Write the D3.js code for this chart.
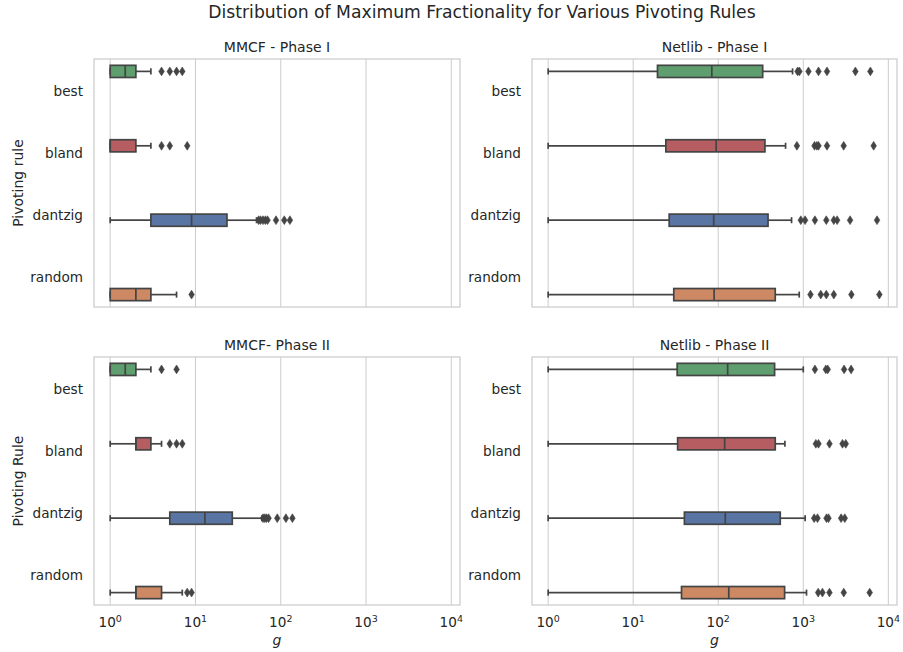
<!DOCTYPE html>
<head>
	<script type="text/javascript" src="https://cdnjs.cloudflare.com/ajax/libs/d3/7.8.5/d3.min.js"></script>
</head>
<style type="text/css">
body{
	margin: 0;
	background: #fff;
}
svg text{
	font-family: "DejaVu Sans", sans-serif;
	fill: #262626;
}
.grid line{
	stroke: #cccccc;
	stroke-width: 1;
}
.frame{
	fill: none;
	stroke: #cccccc;
	stroke-width: 1.25;
}
</style>
<body>
	<div class="viz"></div>
</body>
<script type="text/javascript">
// categories and hue colours
var rules = ["best", "bland", "dantzig", "random"];
var ruleColors = ["#5f9e6e", "#b55d60", "#5975a4", "#cc8963"];
var panelTitles = ["MMCF - Phase I", "Netlib - Phase I", "MMCF- Phase II", "Netlib - Phase II"];
var yLabels = ["Pivoting rule", "Pivoting Rule"];
var decades = [1, 10, 100, 1000, 10000];
var tickPowers = ["0", "1", "2", "3", "4"];

// box stats per rule: [whisker low, Q1, median, Q3, whisker high]
var mmcf1Stats = [[1, 1, 1.5, 2, 3], [1, 1, 1, 2, 3], [1, 3, 9, 23.4, 52], [1, 1, 2, 3, 6]];
var mmcf1Fliers = [[4, 5, 6, 7], [4, 5, 8], [55, 58, 62, 66, 70, 88, 110, 128], [9]];

var netlib1Stats = [[1, 19.3, 84, 333, 748], [1, 24.2, 94.5, 354, 619], [1, 26.5, 88.5, 385, 728], [1, 30, 89.4, 468, 896]];
var netlib1Fliers = [[856, 900, 1150, 1510, 1900, 4100, 6150],
	[841, 1355, 1443, 1510, 1900, 2985, 6720],
	[935, 1050, 1370, 1865, 2285, 2500, 3550, 7365],
	[1215, 1605, 1865, 2285, 3680, 7850]];

var mmcf2Stats = [[1, 1, 1.5, 2, 3], [1, 2, 2, 3, 4], [1, 5, 12.9, 27, 60], [1, 2, 2, 4, 7]];
var mmcf2Fliers = [[4, 6], [5, 6, 7], [62, 65, 68, 72, 91, 115, 137], [8, 9]];

var netlib2Stats = [[1, 32.9, 129, 460, 1000], [1, 33.3, 119, 468, 608], [1, 40, 121, 536, 1052], [1, 37, 133, 603, 1091]];
var netlib2Fliers = [[1370, 1840, 1940, 3020, 3650],
	[1405, 1510, 2032, 2890, 3160],
	[1343, 1470, 1875, 1980, 2785, 3075],
	[1496, 1680, 2032, 2993, 6040]];

var W = 903, H = 652;
var lineColor = "#444444";
var lw = 1.7;
var svg = d3.select(".viz").append("svg").attr("width", W).attr("height", H);

svg.append("text").attr("x", 482).attr("y", 18).attr("text-anchor", "middle")
	.style("font-size", "17.2px").text("Distribution of Maximum Fractionality for Various Pivoting Rules");

var colsX = [[94, 460], [532, 897]];
var rowsY = [[59, 307], [357, 605]];

var panels = [
	{stats: mmcf1Stats, fliers: mmcf1Fliers, col: 0, row: 0},
	{stats: netlib1Stats, fliers: netlib1Fliers, col: 1, row: 0},
	{stats: mmcf2Stats, fliers: mmcf2Fliers, col: 0, row: 1},
	{stats: netlib2Stats, fliers: netlib2Fliers, col: 1, row: 1}
];

var diamond = "M0,-4.4L2.8,0L0,4.4L-2.8,0Z";

panels.forEach(function(p, i){
	var xr = colsX[p.col], yr = rowsY[p.row];
	var x = d3.scaleLog().domain([Math.pow(10, -0.19), Math.pow(10, 4.102)]).range(xr);
	var y = d3.scaleBand().domain(rules).range(yr);
	var g = svg.append("g");

	// vertical grid at each decade
	g.append("g").attr("class", "grid").selectAll("line").data(decades).enter().append("line")
		.attr("x1", function(d){ return x(d); }).attr("x2", function(d){ return x(d); })
		.attr("y1", yr[0]).attr("y2", yr[1]);

	// hue dodge: every rule is its own hue, so boxes shift inside the band
	rules.forEach(function(r, k){
		var bw = y.bandwidth();
		var hue = d3.scaleBand().domain(rules).range([y(r) + bw * 0.1, y(r) + bw * 0.9]);
		var h = hue.bandwidth() * 0.98;
		var cy = hue(r) + hue.bandwidth() / 2;
		var s = p.stats[k];
		var bg = g.append("g");
		// whiskers
		bg.append("line").attr("x1", x(s[0])).attr("x2", x(s[1])).attr("y1", cy).attr("y2", cy)
			.attr("stroke", lineColor).attr("stroke-width", lw);
		bg.append("line").attr("x1", x(s[3])).attr("x2", x(s[4])).attr("y1", cy).attr("y2", cy)
			.attr("stroke", lineColor).attr("stroke-width", lw);
		// caps
		[s[0], s[4]].forEach(function(v){
			bg.append("line").attr("x1", x(v)).attr("x2", x(v)).attr("y1", cy - h / 4).attr("y2", cy + h / 4)
				.attr("stroke", lineColor).attr("stroke-width", lw);
		});
		// box
		bg.append("rect").attr("x", x(s[1])).attr("y", cy - h / 2)
			.attr("width", x(s[3]) - x(s[1])).attr("height", h)
			.attr("fill", ruleColors[k]).attr("stroke", lineColor).attr("stroke-width", lw);
		// median
		bg.append("line").attr("x1", x(s[2])).attr("x2", x(s[2])).attr("y1", cy - h / 2).attr("y2", cy + h / 2)
			.attr("stroke", lineColor).attr("stroke-width", lw);
		// fliers
		bg.selectAll("path").data(p.fliers[k]).enter().append("path")
			.attr("d", diamond)
			.attr("transform", function(d){ return "translate(" + x(d) + "," + cy + ")"; })
			.attr("fill", lineColor).attr("stroke", lineColor).attr("stroke-width", 0.6);
	});

	// frame
	g.append("rect").attr("class", "frame").attr("x", xr[0]).attr("y", yr[0])
		.attr("width", xr[1] - xr[0]).attr("height", yr[1] - yr[0]);

	// y tick labels
	var yaxis = d3.axisLeft(y).tickSize(0).tickPadding(11);
	var ya = g.append("g").attr("transform", "translate(" + xr[0] + ",2)").call(yaxis);
	ya.select(".domain").remove();
	ya.selectAll("text").style("font-size", "13.6px").attr("fill", "#262626").style("font-family", "DejaVu Sans");

	// subplot title
	g.append("text").attr("x", (xr[0] + xr[1]) / 2).attr("y", yr[0] - 7).attr("text-anchor", "middle")
		.style("font-size", "14px").text(panelTitles[i]);

	if (p.col == 0){
		g.append("text").attr("transform", "translate(23," + ((yr[0] + yr[1]) / 2) + ") rotate(-90)")
			.attr("text-anchor", "middle").style("font-size", "14px").text(yLabels[p.row]);
	}

	// x tick labels only on the bottom row
	if (p.row == 1){
		var xt = g.append("g").selectAll("text").data(decades).enter().append("text")
			.attr("x", function(d){ return x(d); }).attr("y", yr[1] + 22)
			.attr("text-anchor", "middle").style("font-size", "13.6px");
		xt.append("tspan").text("10");
		xt.append("tspan").attr("dy", -5.5).style("font-size", "9.5px").text(function(d, j){ return tickPowers[j]; });
		g.append("text").attr("x", (xr[0] + xr[1]) / 2).attr("y", yr[1] + 40).attr("text-anchor", "middle")
			.style("font-size", "14px").style("font-style", "italic").text("g");
	}
});
</script>
